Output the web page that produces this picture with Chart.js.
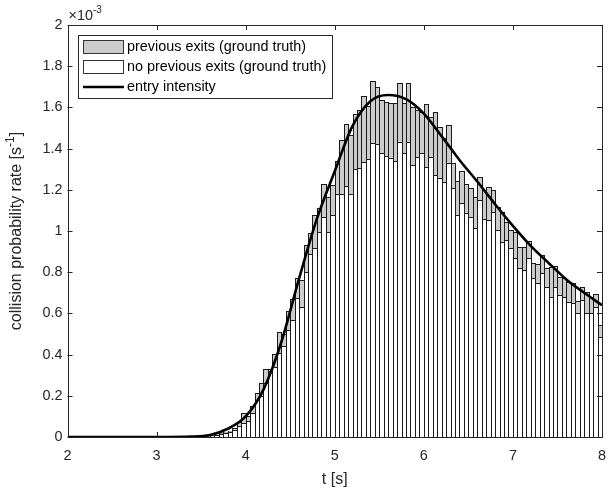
<!DOCTYPE html>
<html>
<head>
<meta charset="utf-8">
<script src="https://cdn.jsdelivr.net/npm/chart.js@4.4.1/dist/chart.umd.min.js"></script>
<style>
  html, body { margin: 0; padding: 0; background: #fff; }
  #wrap { width: 616px; height: 490px; position: relative; }
</style>
</head>
<body>
<div id="wrap"><canvas id="chart" width="616" height="490"></canvas></div>
<script>
// ==========================================
// DATA (values in units of 1e-3 s^-1)
// ==========================================

// histogram bins: 120 bins of 0.05 s from t = 2 to t = 8
const BIN_START = 2;
const BIN_WIDTH = 0.05;
const BIN_COUNT = 120;

// white part: "no previous exits (ground truth)"
const noPrevExits = [
  0, 0, 0, 0, 0, 0, 0, 0, 0, 0,
  0, 0, 0, 0, 0, 0, 0, 0, 0, 0,
  0, 0, 0, 0, 0, 0, 0, 0, 0, 0.002,
  0.003, 0.004, 0.007, 0.010, 0.015, 0.018, 0.025, 0.036, 0.053, 0.066,
  0.080, 0.115, 0.180, 0.200, 0.260, 0.320, 0.340, 0.410, 0.440, 0.520,
  0.570, 0.673, 0.630, 0.800, 0.890, 0.916, 0.997, 1.070, 0.997, 1.078,
  1.180, 1.180, 1.220, 1.180, 1.300, 1.304, 1.337, 1.350, 1.425, 1.420,
  1.380, 1.365, 1.355, 1.340, 1.434, 1.377, 1.434, 1.320, 1.360, 1.377,
  1.310, 1.360, 1.270, 1.256, 1.240, 1.330, 1.207, 1.078, 1.134, 1.086,
  1.070, 1.013, 1.150, 1.060, 1.053, 1.094, 1.005, 0.948, 0.956, 0.916,
  0.867, 0.819, 0.810, 0.867, 0.770, 0.746, 0.794, 0.730, 0.680, 0.730,
  0.690, 0.680, 0.657, 0.650, 0.600, 0.665, 0.600, 0.600, 0.633, 0.487
];

// top of the grey part: all exits (previous + no previous)
const allExits = [
  0, 0, 0, 0, 0, 0, 0, 0, 0, 0,
  0, 0, 0, 0, 0, 0, 0, 0, 0, 0,
  0, 0, 0, 0, 0, 0, 0, 0, 0, 0.002,
  0.003, 0.005, 0.008, 0.012, 0.018, 0.022, 0.030, 0.045, 0.074, 0.115,
  0.100, 0.150, 0.215, 0.260, 0.330, 0.330, 0.405, 0.510, 0.500, 0.610,
  0.670, 0.770, 0.760, 0.932, 0.990, 1.078, 1.110, 1.230, 1.167, 1.223,
  1.340, 1.440, 1.520, 1.466, 1.570, 1.587, 1.657, 1.608, 1.730, 1.697,
  1.636, 1.628, 1.620, 1.620, 1.720, 1.620, 1.720, 1.600, 1.587, 1.580,
  1.617, 1.555, 1.580, 1.506, 1.450, 1.515, 1.330, 1.244, 1.293, 1.228,
  1.207, 1.163, 1.264, 1.200, 1.215, 1.200, 1.115, 1.094, 1.045, 1.005,
  0.997, 0.924, 0.920, 0.953, 0.846, 0.840, 0.883, 0.819, 0.827, 0.830,
  0.778, 0.770, 0.754, 0.749, 0.660, 0.727, 0.705, 0.680, 0.694, 0.544
];

// entry intensity curve
const curveT = [2, 3, 3.4, 3.6, 3.8, 4.0, 4.2, 4.4, 4.6, 4.8, 5.0, 5.2, 5.4,
                5.6, 5.8, 6.0, 6.2, 6.4, 6.6, 6.8, 7.0, 7.2, 7.4, 7.6, 7.8, 8.0];
const curveY = [0, 0, 0.002, 0.010, 0.040, 0.100, 0.230, 0.460, 0.770, 1.060, 1.290, 1.510, 1.630,
                1.660, 1.640, 1.570, 1.460, 1.345, 1.240, 1.130, 1.025, 0.928, 0.845, 0.765, 0.700, 0.640];

const xTicks = [2, 3, 4, 5, 6, 7, 8];
const yTicks = [0, 0.2, 0.4, 0.6, 0.8, 1, 1.2, 1.4, 1.6, 1.8, 2];

const legendLabels = ['previous exits (ground truth)', 'no previous exits (ground truth)', 'entry intensity'];

// ==========================================
// BUILD
// ==========================================

const FONT = 'Liberation Sans, Arial, Helvetica, sans-serif';
const AXIS_COLOR = '#262626';
const EDGE_COLOR = '#1a1a1a';
const TICK_SIZE = 14.4;
const LABEL_SIZE = 16;

const binLabels = [];
for (let i = 0; i < BIN_COUNT; i++) binLabels.push((BIN_START + (i + 0.5) * BIN_WIDTH).toFixed(3));

const greyBars = noPrevExits.map((w, i) => [w, allExits[i]]);
const curvePoints = curveT.map((t, i) => ({ x: t, y: curveY[i] }));

// text with a superscript, e.g. "[s" + "-1" + "]"
function drawSupText(ctx, x, y, parts, size, align) {
    const small = Math.round(size * 0.72);
    let total = 0;
    parts.forEach(p => {
        ctx.font = (p.sup ? small : size) + 'px ' + FONT;
        total += ctx.measureText(p.t).width;
    });
    let cx = align === 'center' ? x - total / 2 : x;
    parts.forEach(p => {
        ctx.font = (p.sup ? small : size) + 'px ' + FONT;
        ctx.fillText(p.t, cx, p.sup ? y - size * 0.42 : y);
        cx += ctx.measureText(p.t).width;
    });
}

// snap bar edges to whole pixels (like MATLAB does) so neighbours share one crisp edge
const snapBars = {
    id: 'snapBars',
    beforeDatasetsDraw(chart) {
        chart.data.datasets.forEach((ds, i) => {
            const meta = chart.getDatasetMeta(i);
            if (meta.type !== 'bar') return;
            meta.data.forEach(el => {
                if (el._snapped) return;
                const left = Math.round(el.x - el.width / 2);
                const right = Math.round(el.x + el.width / 2) + 1;
                el.width = right - left;
                el.x = left + el.width / 2;
                el.y = Math.round(el.y);
                el.base = Math.round(el.base);
                el._snapped = true;
            });
        });
    }
};

const matlabAxes = {
    id: 'matlabAxes',
    afterDraw(chart) {
        const ctx = chart.ctx;
        const a = chart.chartArea;
        const xs = chart.scales.xt;
        const ys = chart.scales.y;
        ctx.save();

        // inward ticks on all four sides
        ctx.strokeStyle = AXIS_COLOR;
        ctx.lineWidth = 1;
        ctx.beginPath();
        xTicks.forEach(v => {
            const px = Math.round(xs.getPixelForValue(v)) + 0.5;
            ctx.moveTo(px, a.bottom); ctx.lineTo(px, a.bottom - 5);
            ctx.moveTo(px, a.top); ctx.lineTo(px, a.top + 5);
        });
        yTicks.forEach(v => {
            const py = Math.round(ys.getPixelForValue(v)) + 0.5;
            ctx.moveTo(a.left, py); ctx.lineTo(a.left + 5, py);
            ctx.moveTo(a.right, py); ctx.lineTo(a.right - 5, py);
        });
        ctx.stroke();

        // box
        ctx.strokeRect(Math.round(a.left) + 0.5, Math.round(a.top) + 0.5,
                       Math.round(a.right - a.left), Math.round(a.bottom - a.top));

        // exponent label
        ctx.fillStyle = AXIS_COLOR;
        ctx.textBaseline = 'middle';
        ctx.textAlign = 'left';
        drawSupText(ctx, a.left + 1, 16, [{ t: '\u00d710' }, { t: '-3', sup: true }], TICK_SIZE, 'left');

        // axis titles
        drawSupText(ctx, (a.left + a.right) / 2, 480, [{ t: 't [s]' }], LABEL_SIZE, 'center');
        ctx.save();
        ctx.translate(17, (a.top + a.bottom) / 2);
        ctx.rotate(-Math.PI / 2);
        drawSupText(ctx, 0, 0, [{ t: 'collision probability rate [s' }, { t: '-1', sup: true }, { t: ']' }], LABEL_SIZE, 'center');
        ctx.restore();

        // legend inside the axes, upper left
        const lx = 78.5, ly = 35.5, lw = 254, lh = 63;
        ctx.fillStyle = '#fff';
        ctx.fillRect(lx, ly, lw, lh);
        ctx.strokeStyle = AXIS_COLOR;
        ctx.strokeRect(lx, ly, lw, lh);

        const rows = [47, 67, 87];
        ctx.lineWidth = 1;
        ctx.strokeStyle = '#333';
        ctx.fillStyle = '#cccccc';
        ctx.fillRect(83.5, rows[0] - 6.5, 40, 13);
        ctx.strokeRect(83.5, rows[0] - 6.5, 40, 13);
        ctx.fillStyle = '#fff';
        ctx.fillRect(83.5, rows[1] - 6.5, 40, 13);
        ctx.strokeRect(83.5, rows[1] - 6.5, 40, 13);
        ctx.strokeStyle = '#000';
        ctx.lineWidth = 2.5;
        ctx.beginPath();
        ctx.moveTo(83, rows[2]); ctx.lineTo(124, rows[2]);
        ctx.stroke();

        ctx.fillStyle = '#000';
        ctx.font = TICK_SIZE + 'px ' + FONT;
        ctx.textAlign = 'left';
        ctx.textBaseline = 'middle';
        legendLabels.forEach((t, i) => ctx.fillText(t, 127, rows[i] + 0.5));

        ctx.restore();
    }
};

// ==========================================
// CHART
// ==========================================

document.addEventListener('DOMContentLoaded', function () {
    const ctx = document.getElementById('chart');
    new Chart(ctx, {
        type: 'bar',
        data: {
            labels: binLabels,
            datasets: [
                {
                    label: legendLabels[2],
                    type: 'line',
                    xAxisID: 'xt',
                    data: curvePoints,
                    borderColor: '#000',
                    borderWidth: 2.6,
                    pointRadius: 0,
                    cubicInterpolationMode: 'monotone',
                    fill: false,
                    order: 0
                },
                {
                    label: legendLabels[1],
                    xAxisID: 'x',
                    data: noPrevExits,
                    backgroundColor: '#ffffff',
                    borderColor: EDGE_COLOR,
                    borderWidth: { top: 1, right: 1, bottom: 0, left: 1 },
                    borderSkipped: false,
                    inflateAmount: 0,
                    grouped: false,
                    barPercentage: 1,
                    categoryPercentage: 1,
                    order: 2
                },
                {
                    label: legendLabels[0],
                    xAxisID: 'x',
                    data: greyBars,
                    backgroundColor: '#cccccc',
                    borderColor: EDGE_COLOR,
                    borderWidth: { top: 1, right: 1, bottom: 0, left: 1 },
                    borderSkipped: false,
                    inflateAmount: 0,
                    grouped: false,
                    barPercentage: 1,
                    categoryPercentage: 1,
                    order: 1
                }
            ]
        },
        options: {
            responsive: false,
            animation: false,
            layout: { padding: { left: 0, right: 14, top: 25, bottom: 0 } },
            plugins: { legend: { display: false }, tooltip: { enabled: false } },
            scales: {
                x: { type: 'category', display: false, offset: true },
                xt: {
                    type: 'linear', position: 'bottom', min: 2, max: 8, offset: false,
                    grid: { display: false, drawTicks: false, offset: false },
                    border: { display: false },
                    ticks: { stepSize: 1, padding: 10, color: AXIS_COLOR, font: { family: FONT, size: TICK_SIZE } },
                    afterFit(s) { s.height = 53; }
                },
                y: {
                    min: 0, max: 2,
                    grid: { display: false, drawTicks: false },
                    border: { display: false },
                    ticks: {
                        stepSize: 0.2, padding: 5, color: AXIS_COLOR, font: { family: FONT, size: TICK_SIZE },
                        callback: v => String(Math.round(v * 10) / 10)
                    },
                    afterFit(s) { s.width = 67.5; }
                }
            }
        },
        plugins: [snapBars, matlabAxes]
    });
});
</script>
</body>
</html>
